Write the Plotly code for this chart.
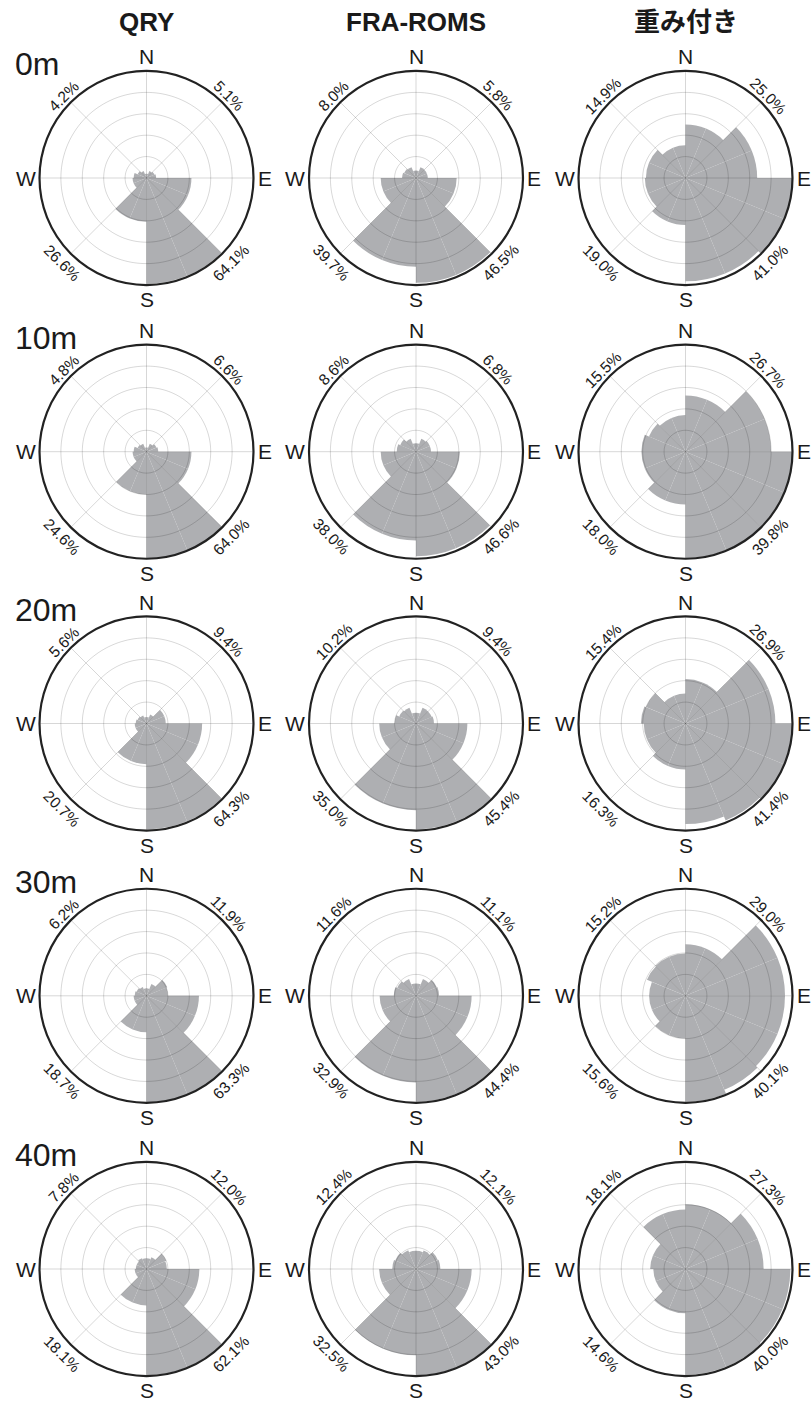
import numpy as np
import plotly.graph_objects as go

W, H = 812, 1401

columns = ["QRY", "FRA-ROMS", "重み付き"]
depths = ["0m", "10m", "20m", "30m", "40m"]
compass = ["N", "E", "S", "W"]

# Sector lengths (radial grid units 0-5), 16 sectors of 22.5 deg, clockwise from North
r_qry_0m  = [0.2, 0.35, 0.4, 0.45, 2.1, 2.1, 4.95, 4.95, 2.05, 2.05, 0.65, 0.65, 0.6, 0.45, 0.35, 0.2]
r_fra_0m  = [0.35, 0.55, 0.55, 0.55, 1.9, 1.9, 4.9, 4.9, 4.15, 4.15, 1.65, 1.65, 0.65, 0.6, 0.55, 0.35]
r_wgt_0m  = [2.5, 2.5, 3.35, 3.35, 5.0, 5.0, 4.83, 4.83, 2.2, 2.2, 1.9, 1.9, 1.85, 1.85, 1.53, 1.53]

r_qry_10m = [0.2, 0.4, 0.5, 0.55, 2.1, 2.1, 5.0, 5.0, 2.0, 2.0, 0.65, 0.65, 0.6, 0.45, 0.4, 0.2]
r_fra_10m = [0.4, 0.65, 0.7, 0.7, 2.05, 2.05, 4.88, 4.88, 4.15, 4.15, 1.65, 1.65, 0.9, 0.8, 0.65, 0.4]
r_wgt_10m = [2.63, 2.63, 4.0, 4.0, 5.0, 5.0, 4.97, 4.97, 2.47, 2.47, 2.06, 2.06, 2.06, 1.85, 1.71, 1.71]

r_qry_20m = [0.3, 0.45, 0.9, 0.9, 2.6, 2.6, 4.95, 4.95, 1.9, 1.9, 0.55, 0.55, 0.5, 0.45, 0.4, 0.3]
r_fra_20m = [0.5, 0.8, 0.8, 0.84, 2.4, 2.4, 4.95, 4.95, 4.05, 4.05, 1.72, 1.72, 1.0, 0.85, 0.8, 0.5]
r_wgt_20m = [2.08, 2.08, 4.2, 4.2, 5.0, 5.0, 4.9, 4.7, 2.15, 2.15, 1.95, 1.95, 2.08, 2.0, 1.4, 1.4]

r_qry_30m = [0.35, 0.6, 1.05, 1.0, 2.45, 2.45, 4.98, 4.98, 1.7, 1.7, 0.6, 0.6, 0.55, 0.5, 0.45, 0.35]
r_fra_30m = [0.58, 0.85, 1.05, 1.08, 2.6, 2.6, 4.95, 4.95, 4.05, 4.05, 1.7, 1.7, 1.04, 0.95, 0.85, 0.58]
r_wgt_30m = [2.41, 2.41, 4.65, 4.65, 4.65, 4.65, 4.75, 4.95, 2.0, 2.0, 1.7, 1.7, 1.7, 1.95, 1.98, 1.98]

r_qry_40m = [0.5, 0.6, 1.0, 0.95, 2.47, 2.47, 4.97, 4.97, 1.7, 1.7, 0.55, 0.55, 0.5, 0.5, 0.55, 0.5]
r_fra_40m = [0.85, 0.93, 1.1, 1.14, 2.6, 2.6, 4.97, 4.97, 4.03, 4.03, 1.72, 1.72, 1.11, 1.05, 0.95, 0.85]
r_wgt_40m = [3.02, 3.02, 3.65, 3.65, 4.9, 4.9, 4.95, 4.95, 2.07, 2.07, 1.5, 1.5, 1.65, 1.65, 2.78, 2.78]

# Quadrant percentages: NE, SE, SW, NW
p_qry_0m  = [5.1, 64.1, 26.6, 4.2]
p_fra_0m  = [5.8, 46.5, 39.7, 8.0]
p_wgt_0m  = [25.0, 41.0, 19.0, 14.9]
p_qry_10m = [6.6, 64.0, 24.6, 4.8]
p_fra_10m = [6.8, 46.6, 38.0, 8.6]
p_wgt_10m = [26.7, 39.8, 18.0, 15.5]
p_qry_20m = [9.4, 64.3, 20.7, 5.6]
p_fra_20m = [9.4, 45.4, 35.0, 10.2]
p_wgt_20m = [26.9, 41.4, 16.3, 15.4]
p_qry_30m = [11.9, 63.3, 18.7, 6.2]
p_fra_30m = [11.1, 44.4, 32.9, 11.6]
p_wgt_30m = [29.0, 40.1, 15.6, 15.2]
p_qry_40m = [12.0, 62.1, 18.1, 7.8]
p_fra_40m = [12.1, 43.0, 32.5, 12.4]
p_wgt_40m = [27.3, 40.0, 14.6, 18.1]

radii = [
    [r_qry_0m, r_fra_0m, r_wgt_0m],
    [r_qry_10m, r_fra_10m, r_wgt_10m],
    [r_qry_20m, r_fra_20m, r_wgt_20m],
    [r_qry_30m, r_fra_30m, r_wgt_30m],
    [r_qry_40m, r_fra_40m, r_wgt_40m],
]
pcts = [
    [p_qry_0m, p_fra_0m, p_wgt_0m],
    [p_qry_10m, p_fra_10m, p_wgt_10m],
    [p_qry_20m, p_fra_20m, p_wgt_20m],
    [p_qry_30m, p_fra_30m, p_wgt_30m],
    [p_qry_40m, p_fra_40m, p_wgt_40m],
]

# ---- layout geometry (page pixels) ----
col_cx = [146.5, 416.0, 685.5]
row_cy = [178.0, 451.7, 723.5, 995.8, 1269.0]
R = 107.0
RMAX = 5
grid_r = [1, 2, 3, 4]
spokes = list(range(0, 360, 45))

BAR = "#aeafb2"
GRID = "rgba(0,0,0,0.2)"
FONT = "Liberation Sans, Arial, Helvetica, sans-serif"
CJK = "Liberation Sans, Noto Sans CJK JP, sans-serif"
TXT = "#1a1a1a"

def px(x):
    return x / W

def py(y):
    return 1 - y / H

fig = go.Figure()
annotations = []

ring_theta = np.linspace(0, 360, 361)
grid_t, grid_rr = [], []
for g in grid_r:
    grid_t += list(ring_theta) + [None]
    grid_rr += [g] * len(ring_theta) + [None]
for s in spokes:
    grid_t += [s, s, None]
    grid_rr += [0, RMAX, None]

k = 0
for i, depth in enumerate(depths):
    for j, col in enumerate(columns):
        k += 1
        name = "polar" if k == 1 else f"polar{k}"
        vals = radii[i][j]
        n = len(vals)
        width = 360 / n
        theta = [width * (q + 0.5) for q in range(n)]
        fig.add_trace(go.Barpolar(
            r=vals, theta=theta, width=[width] * n, subplot=name,
            marker=dict(color=BAR, line=dict(width=0)),
            hoverinfo="skip", showlegend=False))
        fig.add_trace(go.Scatterpolar(
            r=grid_rr, theta=grid_t, mode="lines", subplot=name,
            line=dict(color=GRID, width=0.8), hoverinfo="skip", showlegend=False))
        cx, cy = col_cx[j], row_cy[i]
        fig.layout[name] = dict(
            domain=dict(x=[px(cx - R), px(cx + R)], y=[py(cy + R), py(cy - R)]),
            bgcolor="white",
            radialaxis=dict(range=[0, RMAX], visible=False, showgrid=False),
            angularaxis=dict(direction="clockwise", rotation=90, showgrid=False,
                             showticklabels=False, ticks="", showline=True,
                             linecolor="#222222", linewidth=2.2),
        )
        # compass labels
        comp = [
            dict(x=px(cx), y=py(cy - R - 1), text="N", xanchor="center", yanchor="bottom"),
            dict(x=px(cx), y=py(cy + R + 1), text="S", xanchor="center", yanchor="top"),
            dict(x=px(cx + R + 2), y=py(cy), text="E", xanchor="left", yanchor="middle"),
            dict(x=px(cx - R - 2), y=py(cy), text="W", xanchor="right", yanchor="middle"),
        ]
        for a in comp:
            a.update(xref="paper", yref="paper", showarrow=False,
                     font=dict(family=FONT, size=21, color=TXT))
        annotations += comp
        # quadrant percentages
        p = pcts[i][j]
        quad = [(45, 116, 45), (135, 120, -45), (225, 120, 45), (315, 116, -45)]
        for (ang, dist, rot), v in zip(quad, p):
            a = np.deg2rad(ang)
            x = cx + dist * np.sin(a)
            y = cy - dist * np.cos(a)
            annotations.append(dict(
                x=px(x), y=py(y), xref="paper", yref="paper", text=f"{v:.1f}%",
                textangle=rot, showarrow=False, xanchor="center", yanchor="middle",
                font=dict(family=FONT, size=15.5, color=TXT)))
    # depth label
    annotations.append(dict(
        x=px(13), y=py(row_cy[i] - 114), xref="paper", yref="paper", text=depth,
        showarrow=False, xanchor="left", yanchor="middle",
        font=dict(family=FONT, size=32, color=TXT)))

for j, col in enumerate(columns):
    annotations.append(dict(
        x=px(col_cx[j]), y=py(22), xref="paper", yref="paper", text=col,
        showarrow=False, xanchor="center", yanchor="middle",
        font=dict(family=CJK, size=26, color=TXT, weight="bold")))

fig.update_layout(
    width=W, height=H, margin=dict(l=0, r=0, t=0, b=0),
    paper_bgcolor="white", plot_bgcolor="white",
    annotations=annotations, showlegend=False,
)

fig.write_html(
    "out.html",
    config={"displayModeBar": False},
    post_script="document.body.style.margin='0px';document.body.style.overflow='hidden';",
)
